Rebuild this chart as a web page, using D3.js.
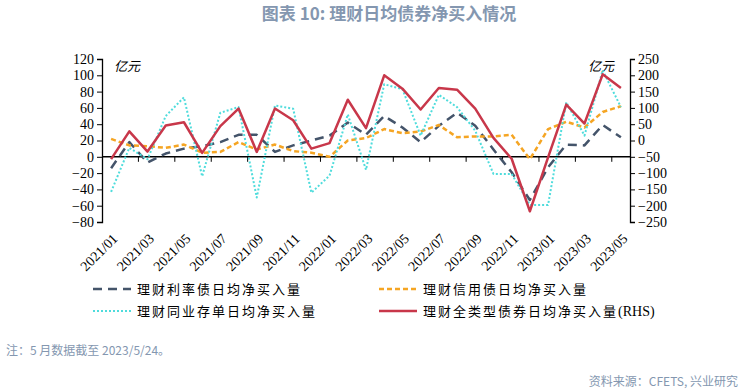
<!DOCTYPE html>
<html>
<head>
<meta charset="utf-8">
<script src="https://cdn.jsdelivr.net/npm/d3@7"></script>
<style>
  body { margin: 0; background: #fff; }
  svg { display: block; }
</style>
</head>
<body>
<div id="chart"></div>
<script>
// monthly categories
var months = ["2021/01","2021/02","2021/03","2021/04","2021/05","2021/06","2021/07","2021/08","2021/09","2021/10","2021/11","2021/12",
              "2022/01","2022/02","2022/03","2022/04","2022/05","2022/06","2022/07","2022/08","2022/09","2022/10","2022/11","2022/12",
              "2023/01","2023/02","2023/03","2023/04","2023/05"];

// left axis series (亿元)
var rateBond = [-14,18,-7,4,10,13,18,27,27,6,14,20,26,42,27,50,36,18,38,54,38,9,-19,-53,-13,15,14,39,24];
var creditBond = [22,14,13,11,15,5,6,18,9,15,7,5,0,20,23,34,29,31,39,24,25,25,27,-3,34,43,36,55,62];
var ncd = [-43,11,-3,50,73,-24,54,61,-50,63,59,-44,-23,52,-16,89,83,26,76,61,32,-21,-21,-59,-59,67,26,106,61];
// right axis series (亿元)
var allBond = [-57,28,-34,46,56,-38,44,98,-35,98,62,-25,-8,125,38,200,159,95,161,156,98,8,-56,-217,-52,110,52,203,161];

var leftTicks = [-80,-60,-40,-20,0,20,40,60,80,100,120];
var rightTicks = [-250,-200,-150,-100,-50,0,50,100,150,200,250];

var width = 745, height = 392;
var serif = "'Liberation Serif','Times New Roman',serif";
var cjk = "'Noto Sans CJK SC','Noto Sans',sans-serif";
var infoColor = "#8497b0";

var svg = d3.select("#chart").append("svg")
  .attr("width", width)
  .attr("height", height);

var x = d3.scaleBand().domain(months).range([102, 630]);
var yL = d3.scaleLinear().domain([-80, 120]).range([222, 59]);
var yR = d3.scaleLinear().domain([-250, 250]).range([222, 59]);
var cx = function(i) { return x(months[i]) + x.bandwidth() / 2; };

// title
svg.append("text")
  .attr("x", 389).attr("y", 20)
  .attr("text-anchor", "middle")
  .style("font-family", cjk).style("font-size", "17px").style("font-weight", "bold")
  .style("fill", infoColor)
  .text("图表 10: 理财日均债券净买入情况");

// left axis
var gL = svg.append("g").attr("transform", "translate(102,0)")
  .call(d3.axisLeft(yL).tickValues(leftTicks).tickSize(5).tickPadding(3));
gL.selectAll("text").style("font-family", serif).style("font-size", "14px").style("fill", "#000");
gL.select(".domain").attr("stroke-width", 1.3);

// right axis
var gR = svg.append("g").attr("transform", "translate(630,0)")
  .call(d3.axisRight(yR).tickValues(rightTicks).tickSize(5).tickPadding(3));
gR.selectAll("text").style("font-family", serif).style("font-size", "14px").style("fill", "#000");
gR.select(".domain").attr("stroke-width", 1.3);

// x axis line at zero with ticks every two months
svg.append("line")
  .attr("x1", 102).attr("x2", 630)
  .attr("y1", yL(0)).attr("y2", yL(0))
  .attr("stroke", "#000").attr("stroke-width", 1.5);

var tickIdx = d3.range(2, months.length, 2);
svg.selectAll(".xtick").data(tickIdx).enter().append("line")
  .attr("x1", function(d) { return x(months[d]); })
  .attr("x2", function(d) { return x(months[d]); })
  .attr("y1", yL(0)).attr("y2", yL(0) + 5)
  .attr("stroke", "#000").attr("stroke-width", 1);

svg.selectAll(".xlab").data(d3.range(0, months.length, 2)).enter().append("text")
  .attr("transform", function(d) { return "translate(" + (cx(d) + 4) + ",236) rotate(-45)"; })
  .attr("text-anchor", "end")
  .attr("dy", "0.35em")
  .style("font-family", serif).style("font-size", "14px")
  .text(function(d) { return months[d]; });

// unit labels
svg.append("text").attr("x", 114).attr("y", 71)
  .style("font-family", cjk).style("font-size", "13px").style("font-style", "italic")
  .text("亿元");
svg.append("text").attr("x", 588).attr("y", 71)
  .style("font-family", cjk).style("font-size", "13px").style("font-style", "italic")
  .text("亿元");

var series = [
  {name: "理财利率债日均净买入量", suffix: "", values: rateBond, y: yL, color: "#44546a", width: 2.5, dash: "9,6"},
  {name: "理财信用债日均净买入量", suffix: "", values: creditBond, y: yL, color: "#f5a523", width: 2.5, dash: "5,3"},
  {name: "理财同业存单日均净买入量", suffix: "", values: ncd, y: yL, color: "#4fdcdc", width: 2, dash: "2,2"},
  {name: "理财全类型债券日均净买入量", suffix: "(RHS)", values: allBond, y: yR, color: "#c8374a", width: 2.5, dash: null}
];

series.forEach(function(s) {
  var line = d3.line()
    .x(function(d, i) { return cx(i); })
    .y(function(d) { return s.y(d); });
  svg.append("path")
    .datum(s.values)
    .attr("d", line)
    .attr("fill", "none")
    .attr("stroke", s.color)
    .attr("stroke-width", s.width)
    .attr("stroke-dasharray", s.dash)
    .attr("stroke-linejoin", "round");
});

// legend
var legendPos = [[93, 289], [379, 289], [93, 311], [379, 311]];
series.forEach(function(s, i) {
  var p = legendPos[i];
  svg.append("line")
    .attr("x1", p[0]).attr("x2", p[0] + 38)
    .attr("y1", p[1]).attr("y2", p[1])
    .attr("stroke", s.color)
    .attr("stroke-width", s.width)
    .attr("stroke-dasharray", s.dash);
  var t = svg.append("text")
    .attr("x", p[0] + 44).attr("y", p[1])
    .attr("dy", "0.35em")
    .style("font-family", cjk).style("font-size", "13px");
  t.append("tspan").style("letter-spacing", "2px").text(s.name);
  if (s.suffix) {
    t.append("tspan").style("font-family", serif).style("font-size", "14px").text(s.suffix);
  }
});

// note and source
svg.append("text").attr("x", 6).attr("y", 355)
  .style("font-family", cjk).style("font-size", "12px").style("fill", infoColor)
  .text("注：5 月数据截至 2023/5/24。");
svg.append("text").attr("x", 738).attr("y", 386)
  .attr("text-anchor", "end")
  .style("font-family", cjk).style("font-size", "12px").style("fill", infoColor)
  .text("资料来源：CFETS, 兴业研究");
</script>
</body>
</html>
